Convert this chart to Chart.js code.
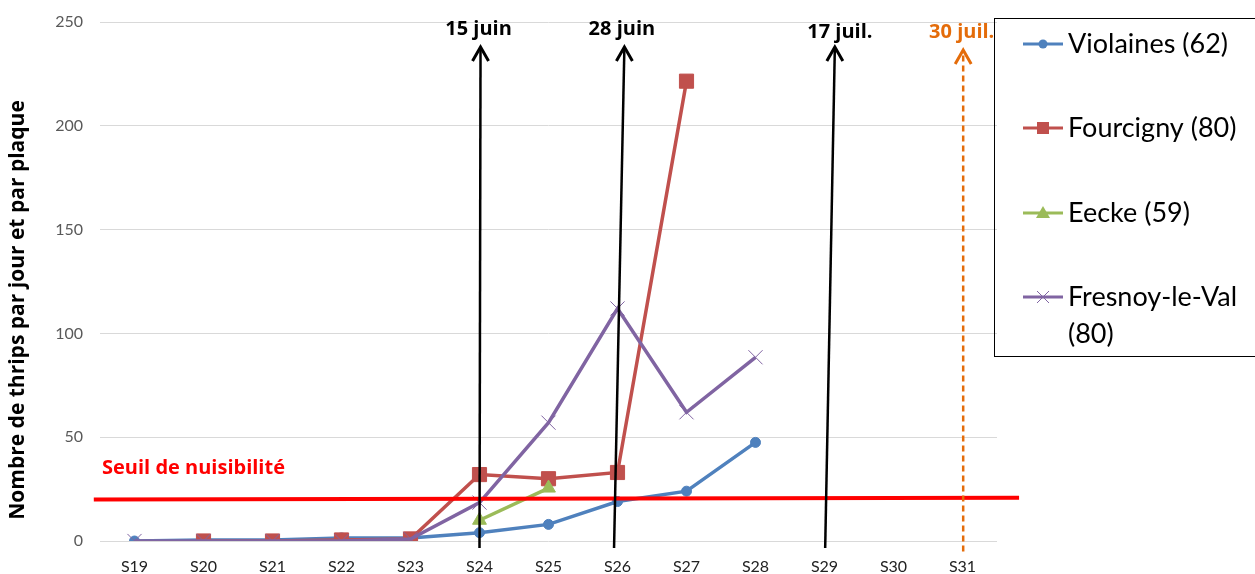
<!DOCTYPE html>
<html>
<head>
<meta charset="utf-8">
<script src="https://cdn.jsdelivr.net/npm/chart.js@4.4.0/dist/chart.umd.min.js"></script>
<style>
  html, body { margin: 0; padding: 0; background: #fff; }
  #wrap { width: 1255px; height: 574px; }
</style>
</head>
<body>
<div id="wrap"><canvas id="line-chart" width="1255" height="574"></canvas></div>
<script>
// semaines
var semaines = ["S19","S20","S21","S22","S23","S24","S25","S26","S27","S28","S29","S30","S31"];

// thrips par jour et par plaque
var violaines = [0, 0.5, 0.5, 1.5, 1.5, 4, 8, 19, 24, 47.5, null, null, null];
var fourcigny = [null, 0, 0, 0.5, 1, 32, 30, 33, 221.5, null, null, null, null];
var eecke     = [null, null, null, null, null, 10, 25.5, null, null, null, null, null, null];
var fresnoy   = [0, 0, 0, 0, 1, 18.5, 57, 112, 62, 88.5, null, null, null];

var yTicks = [0, 50, 100, 150, 200, 250];

// seuil de nuisibilite (debut / fin)
var seuil = [20, 20.8];

// fleches (dates) en index de semaine
var dates      = ["15 juin", "28 juin", "17 juil.", "30 juil."];
var dateBase   = [5, 6.95, 10.01, 12.01];
var datePointe = [5.015, 7.1, 10.15, 12.01];

var FONT = "Lato, 'Open Sans', sans-serif";
var BOLD = "'Open Sans', Lato, sans-serif";

var annotations = {
  id: 'annotations',
  afterDatasetsDraw: function(chart) {
    var ctx = chart.ctx, x = chart.scales.x, y = chart.scales.y;
    ctx.save();

    // titre axe y
    ctx.save();
    ctx.translate(18, 310);
    ctx.rotate(-Math.PI / 2);
    ctx.fillStyle = '#000';
    ctx.font = "bold 21px " + BOLD;
    ctx.textAlign = 'center';
    ctx.textBaseline = 'middle';
    ctx.fillText("Nombre de thrips par jour et par plaque", 0, 0);
    ctx.restore();

    // seuil
    ctx.strokeStyle = '#ff0000';
    ctx.lineWidth = 4;
    ctx.beginPath();
    ctx.moveTo(x.getPixelForValue(-0.59), y.getPixelForValue(seuil[0]));
    ctx.lineTo(x.getPixelForValue(12.82), y.getPixelForValue(seuil[1]));
    ctx.stroke();
    ctx.fillStyle = '#ff0000';
    ctx.font = "bold 20px " + BOLD;
    ctx.textBaseline = 'middle';
    ctx.textAlign = 'left';
    ctx.fillText("Seuil de nuisibilité", chart.chartArea.left + 2, y.getPixelForValue(35));

    // fleches
    var dx = [-2, -2.5, 5, -1.5];
    for (var i = 0; i < dates.length; i++) {
      var last = i == dates.length - 1;
      var col = last ? '#e46c0a' : '#000000';
      var x0 = x.getPixelForValue(dateBase[i]), y0 = y.getPixelForValue(last ? -5 : -3.4);
      var x1 = x.getPixelForValue(datePointe[i]), y1 = y.getPixelForValue(last ? 236.5 : 238);
      ctx.strokeStyle = col;
      ctx.lineWidth = 2.5;
      ctx.setLineDash(last ? [6, 4] : []);
      ctx.beginPath();
      ctx.moveTo(x0, y0);
      ctx.lineTo(x1, y1);
      ctx.stroke();
      ctx.setLineDash([]);
      ctx.lineWidth = 3;
      ctx.beginPath();
      ctx.moveTo(x1 - 8, y1 + 14);
      ctx.lineTo(x1, y1);
      ctx.lineTo(x1 + 8, y1 + 14);
      ctx.stroke();
      ctx.fillStyle = col;
      ctx.font = "bold 20px " + BOLD;
      ctx.textAlign = 'center';
      ctx.fillText(dates[i], x1 + dx[i], y1 - (i == 2 ? 15 : 18));
    }

    // legende
    var lx = 994.5, ly = 18.5;
    ctx.strokeStyle = '#000';
    ctx.lineWidth = 1;
    ctx.strokeRect(lx, ly, 300, 338);
    var rows = [44, 128, 213, 297];
    chart.data.datasets.forEach(function(ds, k) {
      var cy = rows[k];
      ctx.strokeStyle = ds.borderColor;
      ctx.lineWidth = 3;
      ctx.beginPath();
      ctx.moveTo(1023, cy);
      ctx.lineTo(1063, cy);
      ctx.stroke();
      ctx.fillStyle = ds.borderColor;
      if (ds.pointStyle == 'circle') {
        ctx.beginPath(); ctx.arc(1043, cy, 4.5, 0, Math.PI * 2); ctx.fill();
      } else if (ds.pointStyle == 'rect') {
        ctx.fillRect(1037, cy - 6, 12, 12);
      } else if (ds.pointStyle == 'triangle') {
        ctx.beginPath(); ctx.moveTo(1043, cy - 7); ctx.lineTo(1050, cy + 5); ctx.lineTo(1036, cy + 5); ctx.closePath(); ctx.fill();
      } else {
        ctx.lineWidth = 1;
        ctx.beginPath();
        ctx.moveTo(1037, cy - 6); ctx.lineTo(1049, cy + 6);
        ctx.moveTo(1049, cy - 6); ctx.lineTo(1037, cy + 6);
        ctx.stroke();
      }
      ctx.fillStyle = '#000';
      ctx.font = "27px " + FONT;
      ctx.textAlign = 'left';
      ctx.textBaseline = 'middle';
      var parts = ds.label.split('\n');
      parts.forEach(function(p, j) { ctx.fillText(p, 1068, cy + j * 37); });
    });

    ctx.restore();
  }
};

function noPad(s) {
  s.paddingTop = 0; s.paddingBottom = 0; s.paddingLeft = 0; s.paddingRight = 0;
}

new Chart(document.getElementById("line-chart"), {
  type: 'line',
  data: {
    labels: semaines,
    datasets: [
      { label: "Violaines (62)", data: violaines, borderColor: '#4f81bd', backgroundColor: '#4f81bd',
        pointStyle: 'circle', pointRadius: 5, order: 4 },
      { label: "Fourcigny (80)", data: fourcigny, borderColor: '#c0504d', backgroundColor: '#c0504d',
        pointStyle: 'rect', pointRadius: 10, order: 3 },
      { label: "Eecke (59)", data: eecke, borderColor: '#9bbb59', backgroundColor: '#9bbb59',
        pointStyle: 'triangle', pointRadius: 8, order: 2 },
      { label: "Fresnoy-le-Val\n(80)", data: fresnoy, borderColor: '#8064a2', backgroundColor: '#8064a2',
        pointStyle: 'crossRot', pointRadius: 10, pointBorderWidth: 1, order: 1 }
    ]
  },
  options: {
    responsive: false,
    animation: false,
    layout: { padding: { top: 22, right: 258, left: 0, bottom: 0 } },
    elements: { line: { borderWidth: 3.5, tension: 0 }, point: { borderWidth: 1 } },
    plugins: { legend: { display: false }, tooltip: { enabled: false } },
    scales: {
      x: {
        offset: true,
        grid: { display: false },
        border: { display: false },
        ticks: { color: '#222', padding: 8, font: { family: FONT, size: 16 } },
        afterFit: function(s) { s.height = 33; noPad(s); }
      },
      y: {
        min: 0, max: 250,
        afterBuildTicks: function(s) { s.ticks = yTicks.map(function(v) { return { value: v }; }); },
        grid: { color: '#d9d9d9', drawTicks: false },
        border: { display: false },
        ticks: { color: '#595959', padding: 17, font: { family: FONT, size: 16 } },
        afterFit: function(s) { s.width = 100; noPad(s); }
      }
    }
  },
  plugins: [annotations]
});
</script>
</body>
</html>
